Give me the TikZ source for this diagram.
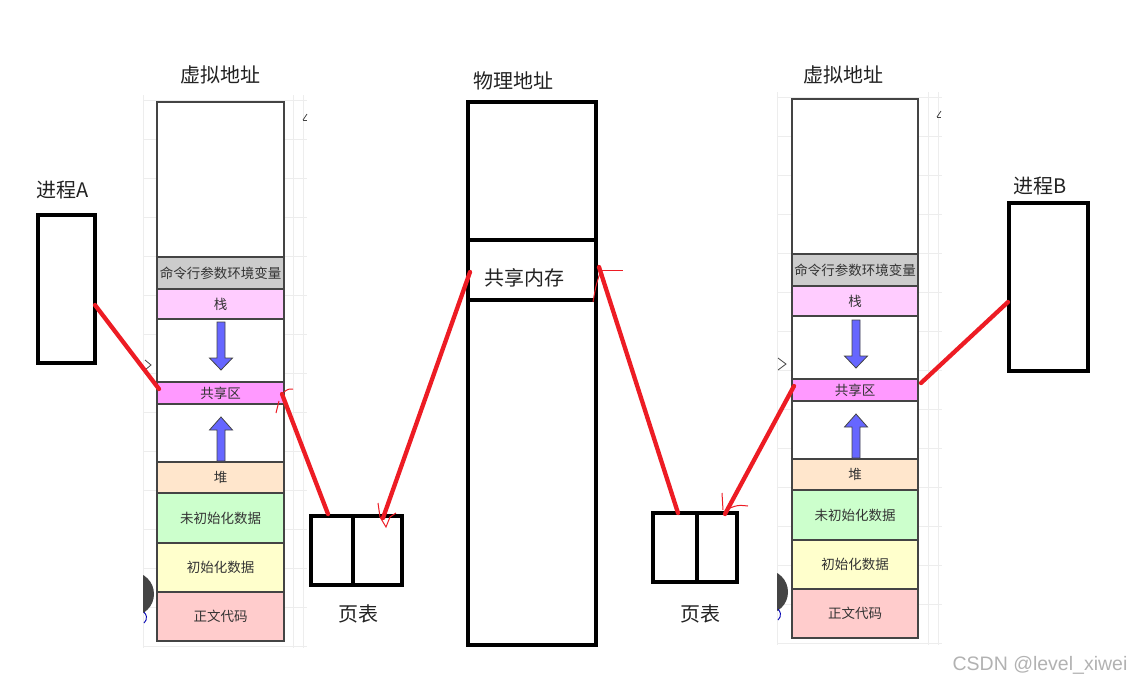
\documentclass[tikz,border=0pt]{standalone}
\usepackage{fontspec}
\setmainfont{Noto Sans CJK SC}
\newfontfamily\wmfont{Liberation Sans}
\definecolor{segline}{HTML}{444444}
\definecolor{segtext}{HTML}{333333}
\definecolor{cmdgray}{HTML}{CCCCCC}
\definecolor{stackpink}{HTML}{FFCCFF}
\definecolor{sharemag}{HTML}{FF99FF}
\definecolor{heappeach}{HTML}{FFE6CC}
\definecolor{bssgreen}{HTML}{CCFFCC}
\definecolor{datayellow}{HTML}{FFFFCC}
\definecolor{textred}{HTML}{FFCCCC}
\definecolor{arrblue}{HTML}{6666FF}
\definecolor{linkred}{HTML}{ED1C24}
\definecolor{lbltext}{HTML}{222222}
\definecolor{gridgray}{HTML}{EDEDED}
\newcommand\myDownArrow[2]{%
  \draw[memarrow] (#1-4,#2) -- (#1+4,#2) -- (#1+4,#2+36) -- (#1+11.5,#2+36)
    -- (#1,#2+48) -- (#1-11.5,#2+36) -- (#1-4,#2+36) -- cycle;}
\newcommand\myUpArrow[3]{%
  \draw[memarrow] (#1,#2) -- (#1+11.5,#2+13) -- (#1+4,#2+13) -- (#1+4,#3)
    -- (#1-4,#3) -- (#1-4,#2+13) -- (#1-11.5,#2+13) -- cycle;}
\begin{document}
\begin{tikzpicture}[x=1pt,y=-1pt,
  seg/.style={draw=segline, line width=1.8pt, inner sep=0pt,
    font=\fontsize{13.5}{14}\selectfont, text=segtext},
  segA/.style={seg, minimum width=127pt},
  segB/.style={seg, minimum width=126pt},
  memarrow/.style={fill=arrblue, draw=segline, line width=0.8pt},
  lbl/.style={font=\fontsize{20}{22}\selectfont, text=lbltext, inner sep=0pt},
  blackbox/.style={draw=black, line width=4pt, inner sep=0pt, fill=white},
  link/.style={draw=linkred, line width=4.3pt, line cap=round},
  scribble/.style={draw=linkred, line width=1pt},
  gridline/.style={draw=gridgray, line width=0.7pt},
  artmark/.style={draw=segline, line width=0.8pt}
]
\useasboundingbox (0,0) rectangle (1138,686);
\fill[white] (0,0) rectangle (1138,686);

% faint background grid behind the virtual address columns
\foreach \gy in {100,139,...,650} {
  \draw[gridline] (143,\gy) -- (307,\gy);
  \draw[gridline] (777,\gy-3) -- (942,\gy-3);
}
\foreach \gx in {143,293,303} \draw[gridline] (\gx,95) -- (\gx,648);
\foreach \gx in {777,928,938} \draw[gridline] (\gx,92) -- (\gx,645);

% small screenshot artefacts
\begin{scope}
  \clip (143,560) rectangle (170,630);
  \fill[segline] (132,594) circle (22);
\end{scope}
\begin{scope}
  \clip (777,558) rectangle (800,628);
  \fill[segline] (766,592) circle (22);
\end{scope}
\draw[artmark] (145,360) -- (151,365) -- (145,370);
\draw[artmark] (778,358) -- (786,364) -- (778,370);
\draw[artmark] (303,120) -- (307,114);
\draw[artmark] (303,120) -- (307,120);
\draw[artmark] (937,117) -- (941,111);
\draw[artmark] (937,117) -- (941,117);
\draw[draw=blue!70!black, line width=0.9pt] (144,623) arc[start angle=50, end angle=-50, radius=7];
\draw[draw=blue!70!black, line width=0.9pt] (778,620) arc[start angle=50, end angle=-50, radius=7];

% ---------- left virtual address space ----------
\node[lbl] (vlabA) at (220,75) {虚拟地址};
\node[segA, fill=white, minimum height=155pt] (topA) at (220.5,179.5) {};
\node[segA, fill=cmdgray, minimum height=32pt] (cmdA) at (220.5,273) {命令行参数环境变量};
\node[segA, fill=stackpink, minimum height=30pt] (stackA) at (220.5,304) {栈};
\node[segA, fill=white, minimum height=63pt] (gapA1) at (220.5,350.5) {};
\node[segA, fill=sharemag, minimum height=22pt] (shareA) at (220.5,393) {共享区};
\node[segA, fill=white, minimum height=58pt] (gapA2) at (220.5,433) {};
\node[segA, fill=heappeach, minimum height=31pt] (heapA) at (220.5,477.5) {堆};
\node[segA, fill=bssgreen, minimum height=50pt] (bssA) at (220.5,518) {未初始化数据};
\node[segA, fill=datayellow, minimum height=49pt] (dataA) at (220.5,567.5) {初始化数据};
\node[segA, fill=textred, minimum height=49pt] (textA) at (220.5,616.5) {正文代码};
\myDownArrow{221}{322}
\myUpArrow{221}{417}{461}

% ---------- right virtual address space ----------
\node[lbl] (vlabB) at (843,75) {虚拟地址};
\node[segB, fill=white, minimum height=155pt] (topB) at (855,176.5) {};
\node[segB, fill=cmdgray, minimum height=32pt] (cmdB) at (855,270) {命令行参数环境变量};
\node[segB, fill=stackpink, minimum height=30pt] (stackB) at (855,301) {栈};
\node[segB, fill=white, minimum height=63pt] (gapB1) at (855,347.5) {};
\node[segB, fill=sharemag, minimum height=22pt] (shareB) at (855,390) {共享区};
\node[segB, fill=white, minimum height=58pt] (gapB2) at (855,430) {};
\node[segB, fill=heappeach, minimum height=31pt] (heapB) at (855,474.5) {堆};
\node[segB, fill=bssgreen, minimum height=50pt] (bssB) at (855,515) {未初始化数据};
\node[segB, fill=datayellow, minimum height=49pt] (dataB) at (855,564.5) {初始化数据};
\node[segB, fill=textred, minimum height=49pt] (textB) at (855,613.5) {正文代码};
\myDownArrow{856}{320}
\myUpArrow{856}{414}{458}

% ---------- physical memory ----------
\node[lbl] (plab) at (513,81) {物理地址};
\node[blackbox, minimum width=128pt, minimum height=138pt] (physTop) at (532,171) {};
\node[blackbox, minimum width=128pt, minimum height=60pt] (physShare) at (532,270) {};
\node[lbl] (physShareText) at (524,278) {共享内存};
\node[blackbox, minimum width=128pt, minimum height=345pt] (physBot) at (532,472.5) {};

% ---------- processes ----------
\node[lbl] (plabA) at (63,190) {进程A};
\node[blackbox, minimum width=57pt, minimum height=148pt] (procA) at (66.5,289) {};
\node[lbl] (plabB) at (1040,186) {进程B};
\node[blackbox, minimum width=79pt, minimum height=168pt] (procB) at (1048.5,287) {};

% ---------- page tables ----------
\node[blackbox, minimum width=42pt, minimum height=69pt] (ptA1) at (332,550.5) {};
\node[blackbox, minimum width=49pt, minimum height=69pt] (ptA2) at (377.5,550.5) {};
\node[lbl] (ptlabA) at (358,614) {页表};
\node[blackbox, minimum width=44pt, minimum height=69pt] (ptB1) at (675,547.5) {};
\node[blackbox, minimum width=40pt, minimum height=69pt] (ptB2) at (717,547.5) {};
\node[lbl] (ptlabB) at (700,614) {页表};

% ---------- connector end points ----------
\coordinate (c1a) at (95,305);
\coordinate (c1b) at (159,389);
\coordinate (c2a) at (282,394);
\coordinate (c2b) at (328,514);
\coordinate (c3a) at (383,518);
\coordinate (c3b) at (470,272);
\coordinate (c4a) at (599,267);
\coordinate (c4b) at (678,513);
\coordinate (c5a) at (725,514);
\coordinate (c5b) at (794,386);
\coordinate (c6a) at (921,383);
\coordinate (c6b) at (1008,302);

\draw[link] (c1a) -- (c1b);
\draw[link] (c2a) -- (c2b);
\draw[link] (c3a) -- (c3b);
\draw[link] (c4a) -- (c4b);
\draw[link] (c5a) -- (c5b);
\draw[link] (c6a) -- (c6b);

% hand-drawn thin arrow marks
\draw[scribble] (284,392) .. controls (288,389) .. (293,389);
\draw[scribble] (279,401) -- (276,413);
\draw[scribble] (378,503) -- (380,517) -- (386,527) -- (390,517) -- (396,513);
\draw[scribble] (599,270) -- (623,270);
\draw[scribble] (600,273) .. controls (596,285) .. (593,302);
\draw[scribble] (722,493) -- (723,510);
\draw[scribble] (730,508) .. controls (738,505) .. (748,506);

% watermark
\node[font=\wmfont\fontsize{19.5}{20}\selectfont, text=black!30, inner sep=0pt] (wm) at (1040,665) {CSDN @level\_xiwei};
\end{tikzpicture}
\end{document}
